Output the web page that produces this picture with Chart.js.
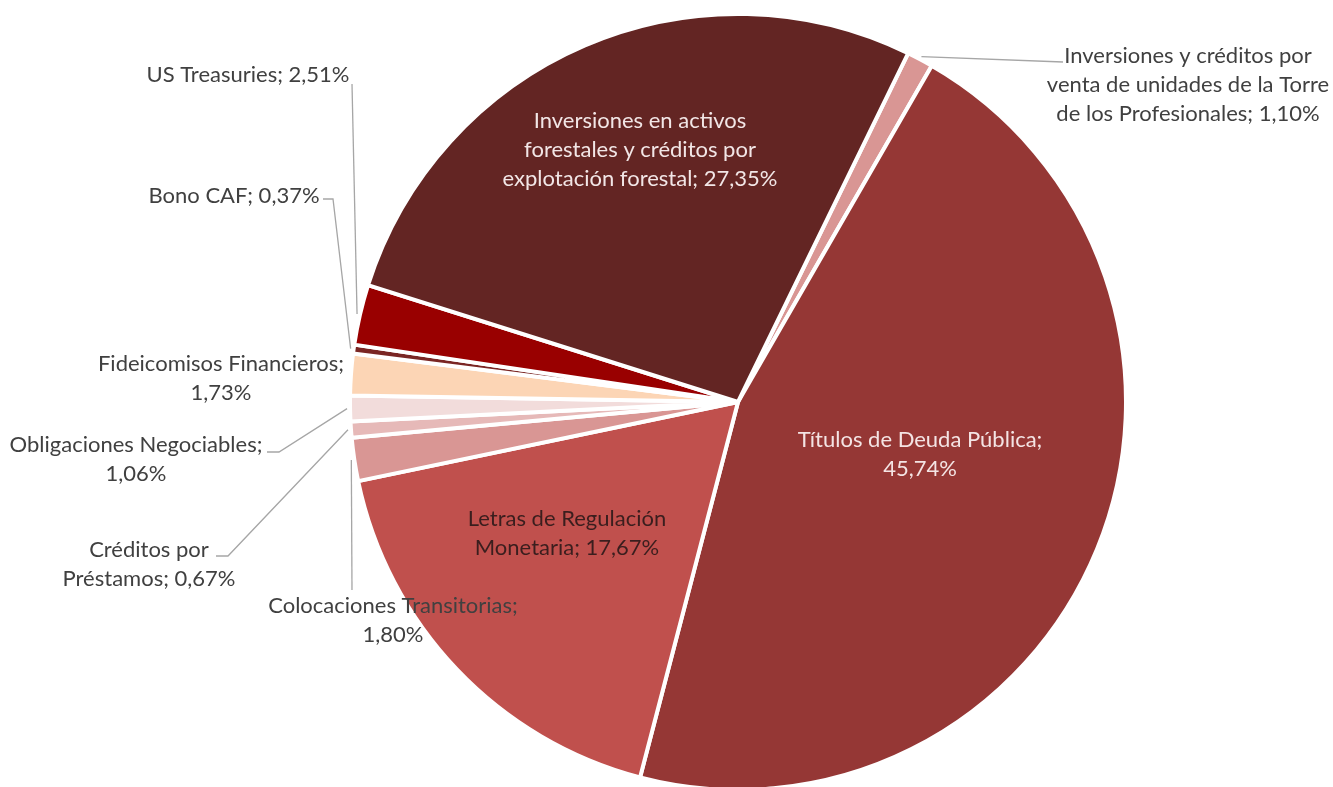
<!DOCTYPE html>
<html>
<head>
<meta charset="utf-8">
<script src="https://cdn.jsdelivr.net/npm/chart.js@4.4.1/dist/chart.umd.min.js"></script>
<style>
  html, body { margin: 0; padding: 0; background: #fff; }
  #wrap { width: 1333px; height: 787px; position: relative; }
</style>
</head>
<body>
<div id="wrap"><canvas id="pie"></canvas></div>
<script>
const categories = [
  'Inversiones y créditos por venta de unidades de la Torre de los Profesionales',
  'Títulos de Deuda Pública',
  'Letras de Regulación Monetaria',
  'Colocaciones Transitorias',
  'Créditos por Préstamos',
  'Obligaciones Negociables',
  'Fideicomisos Financieros',
  'Bono CAF',
  'US Treasuries',
  'Inversiones en activos forestales y créditos por explotación forestal',
];
const shares = [1.10, 45.74, 17.67, 1.80, 0.67, 1.06, 1.73, 0.37, 2.51, 27.35];

const palette = [
  '#D99694', '#953735', '#C0504D', '#D99694', '#E6B9B8',
  '#F2DCDB', '#FCD5B5', '#7A2624', '#990000', '#632523',
];

const FONT = '22px Lato';
const LINE_H = 29;
const OUT = '#404040';

// where each label sits, how many words per line, and the elbows of its leader line
const labelStyle = [
  { x: 1188, y: 56, color: OUT, words: [4, 6, 4], leader: [[1063, 62]] },
  { x: 920, y: 440, color: '#F4E4E4', words: [4, 1] },
  { x: 567, y: 519, color: '#3A1E1E', words: [3, 2] },
  { x: 393, y: 606, color: OUT, words: [2, 1], leader: [[352, 590]] },
  { x: 149, y: 550, color: OUT, words: [2, 2], leader: [[228, 556], [216, 556]] },
  { x: 136, y: 445, color: OUT, words: [2, 1], leader: [[279, 452], [267, 452]] },
  { x: 221, y: 364, color: OUT, words: [2, 1] },
  { x: 234, y: 196, color: OUT, words: [3], leader: [[333, 199], [323, 199]] },
  { x: 248, y: 75, color: OUT, words: [3], leader: [[352, 84]] },
  { x: 640, y: 121, color: '#F2E6E6', words: [3, 4, 3] },
];

const pct = (v) => v.toFixed(2).replace('.', ',') + '%';

const sliceLabels = {
  id: 'sliceLabels',
  afterDatasetsDraw(chart) {
    const ctx = chart.ctx;
    const arcs = chart.getDatasetMeta(0).data;
    ctx.save();
    ctx.font = FONT;
    ctx.textAlign = 'center';
    ctx.textBaseline = 'middle';
    labelStyle.forEach((st, i) => {
      if (st.leader) {
        const { x, y, startAngle, endAngle, outerRadius } =
          arcs[i].getProps(['x', 'y', 'startAngle', 'endAngle', 'outerRadius'], true);
        const mid = (startAngle + endAngle) / 2;
        ctx.beginPath();
        ctx.moveTo(x + Math.cos(mid) * (outerRadius + 3), y + Math.sin(mid) * (outerRadius + 3));
        st.leader.forEach(([px, py]) => ctx.lineTo(px, py));
        ctx.strokeStyle = '#A6A6A6';
        ctx.lineWidth = 1.3;
        ctx.stroke();
      }
      const words = `${categories[i]}; ${pct(shares[i])}`.split(' ');
      let k = 0;
      ctx.fillStyle = st.color;
      st.words.forEach((n, j) => {
        ctx.fillText(words.slice(k, k + n).join(' '), st.x, st.y + j * LINE_H);
        k += n;
      });
    });
    ctx.restore();
  },
};

new Chart(document.getElementById('pie'), {
  type: 'pie',
  data: {
    labels: categories,
    datasets: [{
      data: shares,
      backgroundColor: palette,
      borderColor: '#ffffff',
      borderWidth: 4,
      hoverOffset: 0,
    }],
  },
  options: {
    responsive: true,
    maintainAspectRatio: false,
    animation: false,
    rotation: 26,
    radius: 388,
    layout: { padding: { left: 143, right: 0, top: 17, bottom: 0 } },
    plugins: {
      legend: { display: false },
      tooltip: { enabled: false },
    },
  },
  plugins: [sliceLabels],
});
</script>
</body>
</html>
